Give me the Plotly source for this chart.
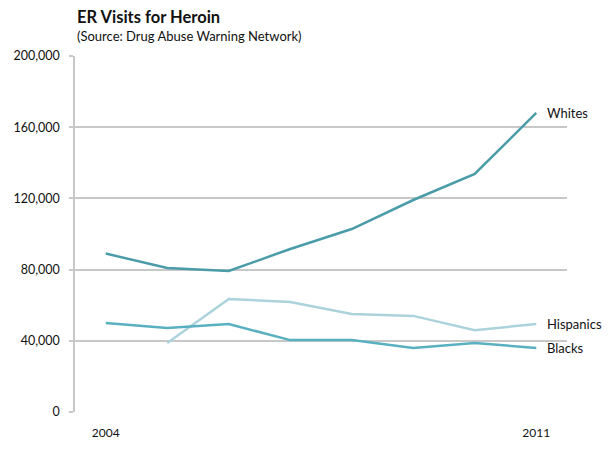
import plotly.graph_objects as go

years = [2004, 2005, 2006, 2007, 2008, 2009, 2010, 2011]
whites = [89000, 80900, 79200, 91600, 102800, 119100, 133700, 168000]
hispanics = [None, 38800, 63500, 61800, 55000, 54000, 46000, 49400]
blacks = [50000, 47200, 49400, 40400, 40400, 36000, 38800, 36000]

series = [
    ("Whites", whites, "#4b9ca9"),
    ("Hispanics", hispanics, "#acd3dc"),
    ("Blacks", blacks, "#58b0c0"),
]

font_family = "Lato, 'Open Sans', sans-serif"
fig = go.Figure()
for name, vals, color in series:
    fig.add_trace(go.Scatter(x=years, y=vals, mode="lines", name=name,
                             line=dict(color=color, width=2.5), connectgaps=False))
    fig.add_annotation(x=years[-1], y=vals[-1], text=name, showarrow=False,
                       xanchor="left", xshift=9, font=dict(size=13, color="#111", family=font_family))

fig.update_layout(
    width=605, height=442,
    margin=dict(l=67, r=46, t=48, b=38, autoexpand=False),
    paper_bgcolor="white", plot_bgcolor="white",
    showlegend=False,
    font=dict(family=font_family, size=12, color="#111"),
    annotations=list(fig.layout.annotations) + [
        dict(xref="paper", yref="paper", x=0, y=1, yshift=39, xanchor="left", yanchor="middle",
             text="<b>ER Visits for Heroin</b>", showarrow=False, font=dict(size=16.5, color="#111")),
        dict(xref="paper", yref="paper", x=0, y=1, yshift=20, xanchor="left", yanchor="middle",
             text="(Source: Drug Abuse Warning Network)", showarrow=False, font=dict(size=13, color="#111")),
    ],
)
fig.update_xaxes(range=[2003.5, 2011.5], tickvals=[2004, 2011], ticktext=["2004", "2011"],
                 showgrid=False, zeroline=False, showline=False, ticks="", ticklen=0,
                 ticklabelstandoff=12, tickfont=dict(size=12), automargin=False)
fig.update_yaxes(range=[0, 200000], tickvals=[0, 40000, 80000, 120000, 160000, 200000],
                 tickformat=",d", showgrid=True, gridcolor="#c8c8c8", gridwidth=1.5,
                 zeroline=False, showline=True, linecolor="#c8c8c8", linewidth=1.5,
                 ticks="outside", ticklen=4, tickcolor="#c8c8c8", tickwidth=1.5,
                 ticklabelstandoff=7, tickfont=dict(size=12.5), automargin=False)

fig.write_html("out.html")
